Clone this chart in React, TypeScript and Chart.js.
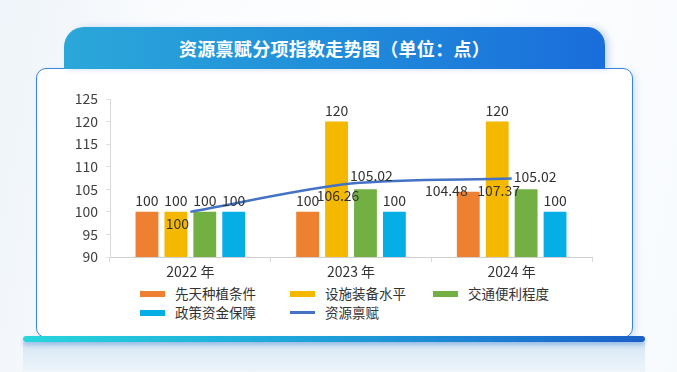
import React, { useEffect, useRef } from 'react';
import { Chart, registerables } from 'chart.js';

Chart.register(...registerables);

const FONT = '"Noto Sans CJK SC", "Noto Sans", sans-serif';

// ---- data ----
const categories = ['2022 年', '2023 年', '2024 年'];
const barSeriesNames = ['先天种植条件', '设施装备水平', '交通便利程度', '政策资金保障'];
const innateConditions = [100, 100, 104.48];
const facilityLevel = [100, 120, 120];
const transportConvenience = [100, 105.02, 105.02];
const policyFunding = [100, 100, 100];
const lineSeriesName = '资源禀赋';
const resourceEndowment = [100, 106.26, 107.37];
const yMin = 90;
const yMax = 125;
const yStep = 5;
const titleText = '资源禀赋分项指数走势图（单位：点）';

// ---- styles ----
const barColors = ['#ee8131', '#f4b800', '#72b044', '#06aee6'];
const lineColor = '#4472c4';
// small manual nudges for overlapping labels [barSeriesIndex, index, dx, dy]
const labelNudges: [number, number, number, number][] = [
  [0, 2, -22, 10],
  [2, 1, 6, -3],
  [2, 2, 9, -2],
];

const valueLabelPlugin = {
  id: 'valueLabels',
  afterDatasetsDraw(chart: any) {
    const ctx = chart.ctx;
    ctx.save();
    ctx.font = `14px ${FONT}`;
    ctx.fillStyle = '#333333';
    ctx.textAlign = 'center';
    ctx.textBaseline = 'middle';
    chart.data.datasets.forEach((ds: any, di: number) => {
      const meta = chart.getDatasetMeta(di);
      meta.data.forEach((el: any, i: number) => {
        const text = String(ds.data[i]);
        if (ds.type === 'line') {
          ctx.fillText(text, el.x - 13, el.y + 12);
        } else {
          const bi = ds.barIndex;
          const n = labelNudges.find((q) => q[0] === bi && q[1] === i);
          const dx = n ? n[2] : 0;
          const dy = n ? n[3] : 0;
          ctx.fillText(text, el.x + dx, el.y - 11 + dy);
        }
      });
    });
    ctx.restore();
  },
};

export default function App() {
  const canvasRef = useRef<HTMLCanvasElement | null>(null);

  useEffect(() => {
    if (!canvasRef.current) return;
    const barData = [innateConditions, facilityLevel, transportConvenience, policyFunding];
    const chart = new Chart(canvasRef.current, {
      type: 'bar',
      data: {
        labels: categories,
        datasets: [
          {
            type: 'line',
            label: lineSeriesName,
            data: resourceEndowment,
            borderColor: lineColor,
            backgroundColor: lineColor,
            borderWidth: 2.5,
            pointRadius: 0,
            tension: 0.3,
            order: 0,
          } as any,
          ...barData.map((d, k) => ({
            type: 'bar',
            label: barSeriesNames[k],
            barIndex: k,
            data: d,
            backgroundColor: barColors[k],
            categoryPercentage: 0.72,
            barPercentage: 0.79,
            order: 1,
          })),
        ],
      },
      options: {
        animation: false,
        responsive: false,
        maintainAspectRatio: false,
        layout: { padding: { top: 19, right: 18, left: 0, bottom: 0 } },
        plugins: {
          legend: { display: false },
          tooltip: { enabled: false },
          title: { display: false },
        },
        scales: {
          x: {
            grid: { drawOnChartArea: false, tickLength: 5, color: '#d9d9d9' },
            border: { color: '#d0d0d0' },
            ticks: { font: { family: FONT, size: 14 }, color: '#333333', padding: 1 },
            afterFit(s: any) {
              s.height = 23;
            },
          },
          y: {
            min: yMin,
            max: yMax,
            grid: { drawOnChartArea: false, tickLength: 4, color: '#e0e0e0' },
            border: { color: '#d9d9d9' },
            ticks: {
              stepSize: yStep,
              font: { family: FONT, size: 14 },
              color: '#404040',
              padding: 8,
            },
            afterFit(s: any) {
              s.width = 70;
            },
          },
        },
      },
      plugins: [valueLabelPlugin],
    });
    return () => chart.destroy();
  }, []);

  const legendItems = [
    ...barSeriesNames.map((n, k) => ({ name: n, color: barColors[k], h: 6 })),
    { name: lineSeriesName, color: lineColor, h: 3 },
  ];

  return (
    <div
      style={{
        position: 'fixed',
        left: 0,
        top: 0,
        width: 677,
        height: 372,
        overflow: 'hidden',
        background: 'linear-gradient(100deg, #eef4f9 0%, #fbfcfe 25%, #ffffff 60%, #f7fafd 100%)',
        fontFamily: FONT,
      }}
    >
      {/* lower reflection area */}
      <div
        style={{
          position: 'absolute',
          left: 23,
          top: 342,
          width: 622,
          height: 30,
          background: 'linear-gradient(180deg, #d3e6f5 0%, #e4eff8 60%, #eef5fb 100%)',
        }}
      />
      {/* card */}
      <div
        style={{
          position: 'absolute',
          left: 36,
          top: 68,
          width: 597,
          height: 270,
          boxSizing: 'border-box',
          border: '1.5px solid #3a84e0',
          borderRadius: 10,
          background: '#ffffff',
          boxShadow: '3px 2px 6px rgba(60,120,210,0.18)',
        }}
      />
      {/* banner */}
      <div
        style={{
          position: 'absolute',
          left: 64,
          top: 27,
          width: 541,
          height: 42,
          borderRadius: '20px 18px 0 0',
          background: 'linear-gradient(90deg, #2ba7d9 0%, #2190da 45%, #1a6ddb 100%)',
          boxShadow: '4px 0px 6px rgba(60,120,210,0.25)',
          color: '#ffffff',
          fontWeight: 700,
          fontSize: 18,
          lineHeight: '42px',
          textAlign: 'center',
          letterSpacing: 0.3,
        }}
      >
        {titleText}
      </div>
      {/* bottom bar */}
      <div
        style={{
          position: 'absolute',
          left: 23,
          top: 336,
          width: 622,
          height: 6,
          borderRadius: 3,
          background: 'linear-gradient(90deg, #27d6db 0%, #1fb4dc 30%, #1d8cd5 65%, #1b5fc8 100%)',
          boxShadow: '0 3px 4px rgba(30,100,200,0.3)',
        }}
      />
      <canvas
        ref={canvasRef}
        width={570}
        height={200}
        style={{ position: 'absolute', left: 40, top: 80, width: 570, height: 200 }}
      />
      {/* legend */}
      <div
        style={{
          position: 'absolute',
          left: 140,
          top: 284,
          display: 'grid',
          gridTemplateColumns: '150px 143px auto',
          gridAutoRows: '19px',
          color: '#333333',
          fontSize: 13.5,
        }}
      >
        {legendItems.map((it) => (
          <div key={it.name} style={{ display: 'flex', alignItems: 'center', height: 19 }}>
            <span
              style={{
                display: 'inline-block',
                width: 25,
                height: it.h,
                background: it.color,
                marginRight: 10,
              }}
            />
            <span style={{ lineHeight: '19px', whiteSpace: 'nowrap' }}>{it.name}</span>
          </div>
        ))}
      </div>
    </div>
  );
}
